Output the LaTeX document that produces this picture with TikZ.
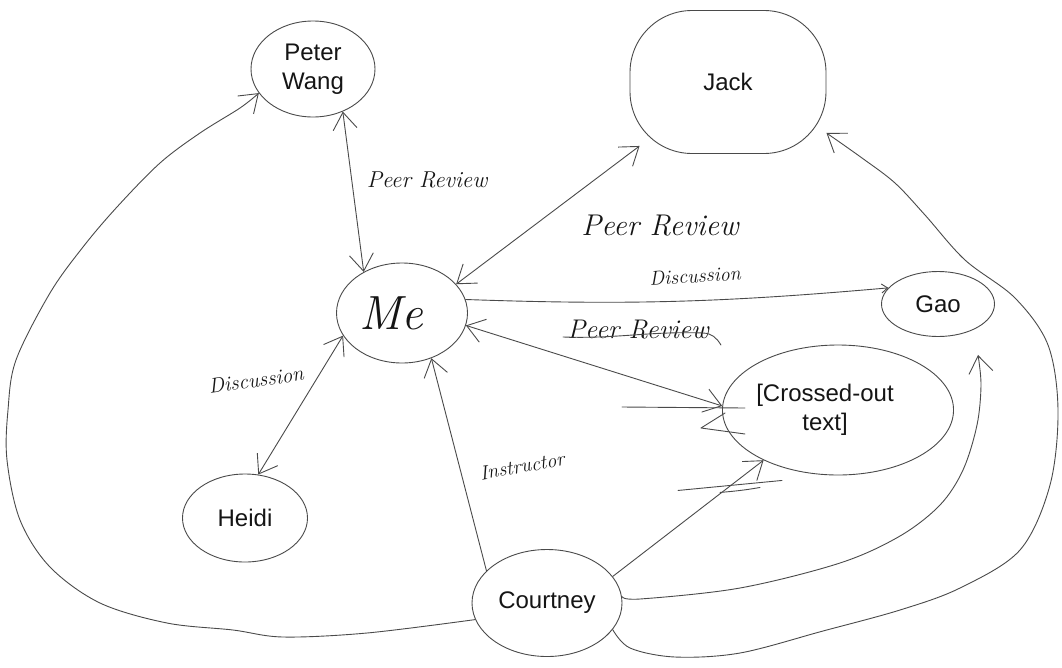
\documentclass[tikz,border=0pt]{standalone}
\usepackage{fontspec}
\newfontfamily\namefont{Liberation Sans}
\usetikzlibrary{arrows.meta,calc,shapes.geometric}
\definecolor{pen}{HTML}{4A4A4A}
\definecolor{ink}{HTML}{151515}

\tikzset{
  blob/.style={draw=pen, line width=0.9pt, ellipse, inner sep=0pt,
    text=ink, align=center, font=\namefont\fontsize{24}{29}\selectfont},
  link/.style={draw=pen, line width=0.9pt, line cap=round, line join=round},
  hand/.style={text=ink, inner sep=0pt},
  >={Straight Barb[length=17pt,width=24pt]}
}

\begin{document}
\begin{tikzpicture}[x=1pt,y=-1pt]
\useasboundingbox (0,0) rectangle (1062,667);

% people
\node[blob, minimum width=124, minimum height=96] (pw) at (313,69) {Peter\\Wang};
\node[blob, shape=rectangle, rounded corners=62pt, minimum width=196, minimum height=143] (jack) at (728,82) {Jack};
\node[blob, minimum width=131, minimum height=100, font=\itshape\fontsize{48}{48}\selectfont] (me) at (402,313) {Me\hspace*{22pt}};
\node[blob, minimum width=113, minimum height=65] (gao) at (938,304) {Gao};
\node[blob, minimum width=223, minimum height=130, align=left] (cross) at (838,410)
  {\begin{tabular}{@{}c@{}}[Crossed-out\\text]\end{tabular}\hspace*{26pt}};
\node[blob, minimum width=125, minimum height=88] (heidi) at (245,518) {Heidi};
\node[blob, minimum width=150, minimum height=107] (court) at (547,603) {Courtney};

% relation labels
\node[hand, font=\itshape\fontsize{23}{23}\selectfont] (lpr1) at (427,180) {Peer Review};
\node[hand, font=\itshape\fontsize{30}{30}\selectfont] (lpr2) at (660,226) {Peer Review};
\node[hand, font=\itshape\fontsize{20}{20}\selectfont, rotate=4] (ld1) at (695,276) {Discussion};
\node[hand, font=\itshape\fontsize{27}{27}\selectfont] (lpr3) at (638,330) {Peer Review};
\node[hand, font=\itshape\fontsize{21}{21}\selectfont, rotate=8] (ld2) at (256,380) {Discussion};
\node[hand, font=\itshape\fontsize{20}{20}\selectfont, rotate=10] (lins) at (522,466) {Instructor};

% struck-out label
\draw[link] ($(lpr3.west)+(-4,7)$) to[out=-2,in=178] ($(lpr3.east)+(-6,3)$)
  to[out=-2,in=120] ($(lpr3.east)+(12,15)$);

% scribbles left over from struck-out text
\draw[link] ($(cross.west)+(-100,-3)$) -- ($(cross.west)+(23,-2)$);
\draw[link] ($(cross.west)+(3,3)$) -- ($(cross.west)+(-21,18)$) -- ($(cross.west)+(23,24)$);
\draw[link] ($(cross.south)+(-160,15)$) -- ($(cross.south)+(-56,5)$);
\draw[link] ($(cross.south)+(-118,17)$) to[out=5,in=-170] ($(cross.south)+(-78,12)$);

% connectors
\draw[link,<->] (pw.-55) -- (me.133);
\draw[link,<->] (me.28) -- ($(jack.south west)+(10,-8)$);
\draw[link,-{Straight Barb[length=6pt,width=9pt]}] (me.12) to[out=-2,in=185] (gao.162);
\draw[link,<->] (me.-11) -- (cross.178);
\draw[link,<->] (me.-159) -- (heidi.73);
\draw[link,->] (court.152) -- (me.-57);
\draw[link,->] (court.22) -- (cross.-146);

\draw[link,->] plot[smooth,tension=0.55] coordinates {(court.5) (640,599) (740,588)
  (840,563) (900,536) (940,505) (963,470) (977,425) (981,385) ($(gao.south)+(40,18)$)};

\draw[link,->] plot[smooth,tension=0.55] coordinates {(court.-22) (630,648) (675,657)
  (740,653) (823,631) (900,610) (960,588) (1020,550) (1050,485) (1058,410) (1048,345)
  (1015,298) (965,260) (925,215) (895,183) (862,158) ($(jack.south east)+(0,-21)$)};

\draw[link,->] plot[smooth,tension=0.55] coordinates {(court.-167) (367,633) (283,637)
  (233,630) (167,623) (100,603) (50,567) (20,520) (7,460) (8,410) (16,360) (50,293)
  (83,247) (117,207) (160,163) (200,133) (240,108) (pw.-156)};
\end{tikzpicture}
\end{document}
